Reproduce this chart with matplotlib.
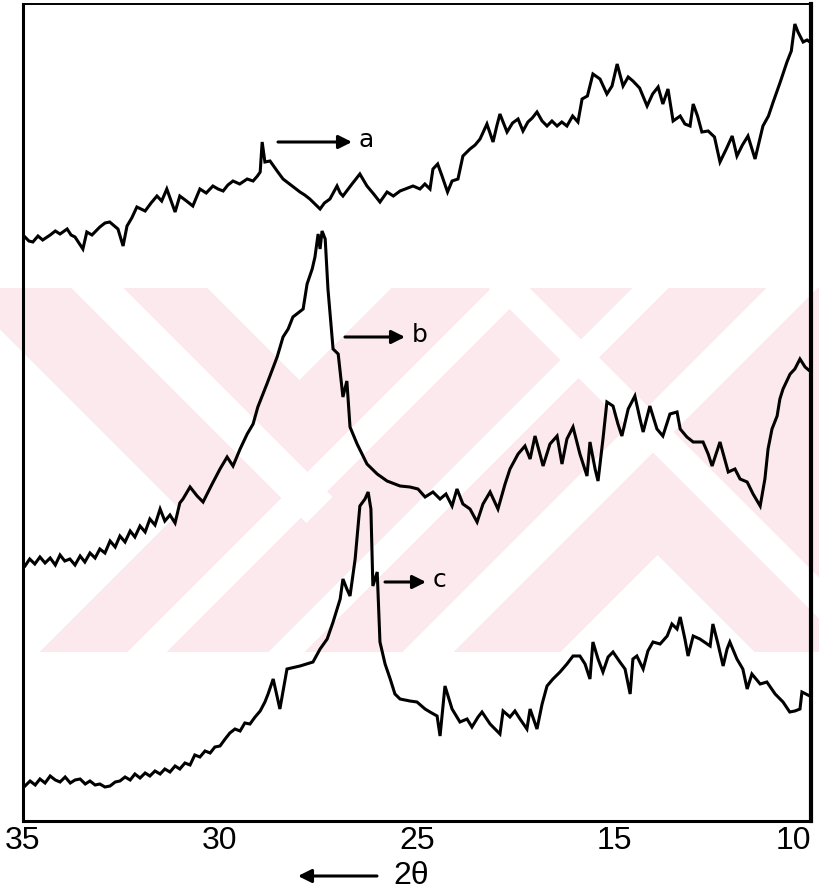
import numpy as np
import matplotlib
matplotlib.use("Agg")
import matplotlib.pyplot as plt
from matplotlib.patches import FancyArrowPatch

# diffractogram traces: 2-theta (deg) and intensity (a.u.)
theta_a = [34.95, 34.85, 34.75, 34.62, 34.50, 34.31, 34.18, 34.06, 33.88, 33.78, 33.68, 33.48,
           33.38, 33.25, 33.05, 32.92, 32.80, 32.59, 32.46, 32.36, 32.24,
           32.11, 31.90, 31.75, 31.60, 31.48, 31.35, 31.14, 31.02, 30.85, 30.69, 30.51, 30.35,
           30.18, 30.05, 29.92, 29.80, 29.67, 29.50, 29.31, 29.16, 29.05, 28.98, 28.93, 28.86,
           28.73, 28.55, 28.40, 28.20, 27.97, 27.85, 27.72, 27.54, 27.46, 27.35, 27.21, 27.03,
           26.95, 26.88, 26.65, 26.45, 26.27, 26.10, 25.94, 25.76, 25.60, 25.43, 25.10, 24.85,
           24.60, 24.34, 24.19, 23.95, 23.73, 23.45, 23.22, 22.92, 22.67, 22.31, 22.05, 21.80,
           21.45, 21.14, 20.95, 20.79, 20.43, 20.15, 19.87, 19.62, 19.37, 19.15, 18.91, 18.65,
           18.40, 18.15, 17.89, 17.65, 17.39, 17.10, 16.83, 16.62, 16.35, 16.07, 15.71, 15.36,
           15.10, 14.92, 14.77, 14.64, 14.52, 14.35, 14.16, 14.02, 13.88, 13.76, 13.63, 13.50,
           13.32, 13.20, 13.07, 12.99, 12.88, 12.77, 12.61, 12.45, 12.31, 12.15, 12.00, 11.88,
           11.74, 11.60, 11.42, 11.22, 11.08, 10.96, 10.78, 10.61, 10.50, 10.41, 10.33, 10.20,
           10.10, 10.03]
counts_a = [584, 580, 579, 585, 581, 586, 590, 587, 592, 586, 584, 572,
            589, 586, 594, 598, 599, 592, 575, 595, 603,
            614, 610, 618, 625, 620, 632, 609, 625, 620, 615, 632, 628,
            635, 632, 630, 636, 640, 637, 642, 640, 645, 649, 679, 659,
            660, 650, 642, 636, 629, 626, 622, 615, 612, 618, 622, 635,
            628, 625, 637, 647, 635, 627, 619, 629, 625, 630, 635, 632,
            637, 632, 652, 657, 645, 629, 640, 642, 665, 672, 676, 682,
            697, 679, 695, 707, 689, 698, 702, 690, 699, 703, 709, 700,
            695, 700, 695, 699, 695, 705, 699, 722, 725, 747, 742, 727,
            735, 757, 735, 744, 740, 733, 715, 727, 734, 717, 732, 700,
            705, 697, 695, 717, 705, 689, 690, 684, 659, 672, 685, 665,
            676, 685, 662, 695, 705, 719, 739, 759, 770, 797, 789, 779,
            781, 779]

theta_b = [34.95, 34.83, 34.70, 34.57, 34.44, 34.31, 34.18, 34.06, 33.94, 33.81, 33.68, 33.55,
           33.43, 33.30, 33.17, 33.05, 32.92, 32.79, 32.66, 32.54, 32.41, 32.28, 32.16, 32.03,
           31.90, 31.78, 31.65, 31.52, 31.40, 31.27, 31.14, 31.02, 30.94, 30.76, 30.58, 30.43,
           30.20, 30.00, 29.82, 29.67,
           29.49, 29.31, 29.16, 29.04, 28.81, 28.55, 28.40, 28.27, 28.15, 27.89, 27.79, 27.66,
           27.59, 27.51, 27.46, 27.41, 27.33, 27.26, 27.13, 27.00, 26.88, 26.78, 26.70, 26.52,
           26.27, 26.01, 25.76, 25.43, 25.18, 24.95, 24.59, 24.19, 23.83, 23.53, 23.22, 22.97,
           22.67, 22.31, 21.95, 21.65, 21.29, 20.89, 20.53, 20.28, 19.87, 19.52, 19.26, 19.01,
           18.76, 18.60, 18.25, 17.89, 17.64, 17.39, 17.08, 16.73, 16.37, 16.22, 15.96, 15.81,
           15.56, 15.36, 15.05, 14.90, 14.80, 14.64, 14.47, 14.34, 14.26, 14.09, 13.91, 13.76,
           13.58, 13.40, 13.32, 13.15, 12.99, 12.74, 12.61, 12.51, 12.31, 12.10, 11.93, 11.80,
           11.62, 11.47, 11.29, 11.17, 11.09, 10.99, 10.86, 10.79, 10.71, 10.53, 10.41, 10.28,
           10.15, 10.03]
counts_b = [255, 262, 257, 264, 258, 263, 256, 266, 260, 262, 256, 265,
            259, 268, 263, 272, 268, 280, 274, 285, 279, 290, 284, 295,
            289, 302, 296, 312, 300, 306, 298, 318, 322, 334, 325, 319,
            337, 352, 364, 355,
            372, 387, 397, 414, 437, 464, 484, 492, 504, 512, 537, 552,
            564, 587, 572, 590, 582, 532, 472, 467, 424, 440, 394, 377,
            357, 347, 340, 335, 334, 332, 324, 329, 322, 327, 315, 332,
            317, 312, 299, 317, 329, 312, 337, 352, 367, 375, 362, 385,
            367, 355, 377, 385, 357, 382, 394, 367, 345, 379, 352, 340,
            382, 419, 415, 397, 385, 412, 425, 402, 389, 415, 392, 385,
            407, 409, 392, 384, 379, 379, 367, 355, 379, 349, 352, 342,
            339, 327, 315, 342, 372, 392, 405, 422, 432, 447, 452, 462,
            454, 450]

theta_c = [34.95, 34.82, 34.69, 34.57, 34.44, 34.31, 34.18, 34.06, 33.93, 33.80, 33.68, 33.55,
           33.42, 33.30, 33.17, 33.05, 32.92, 32.79, 32.66, 32.54, 32.41, 32.28, 32.16, 32.03,
           31.90, 31.78, 31.65, 31.52, 31.40, 31.27, 31.14, 31.02, 30.89, 30.76, 30.64, 30.51,
           30.38, 30.25, 30.13, 30.00, 29.87, 29.75, 29.62, 29.49, 29.37, 29.24, 29.11, 28.98,
           28.86, 28.78, 28.65,
           28.48, 28.30, 27.97, 27.64, 27.46, 27.28, 27.13, 26.95, 26.88, 26.78, 26.70, 26.57,
           26.45, 26.32, 26.24, 26.17, 26.12, 26.01, 25.94, 25.81, 25.68, 25.56, 25.43, 25.18,
           25.00, 24.59, 24.34, 23.98, 23.83, 23.58, 23.22, 22.82, 22.46, 22.21, 21.90, 21.70,
           21.29, 20.79, 20.63, 20.28, 20.03, 19.77, 19.42, 19.26, 18.91, 18.65, 18.40, 18.10,
           17.74, 17.39, 17.08, 16.73, 16.47, 16.22, 16.07, 15.81, 15.56, 15.30, 15.05, 14.85,
           14.72, 14.59, 14.52, 14.42, 14.26, 14.14, 14.01, 13.83, 13.65, 13.53, 13.40, 13.32,
           13.20, 13.12, 12.99, 12.82, 12.56, 12.49, 12.36, 12.23, 12.13, 12.06, 11.88, 11.73,
           11.62, 11.50, 11.29, 11.12, 10.91, 10.71, 10.54, 10.41, 10.28, 10.23, 10.13, 10.03]
counts_c = [35, 40, 36, 42, 38, 45, 41, 39, 44, 38, 41, 42,
            37, 40, 36, 37, 34, 35, 39, 40, 44, 41, 47, 43,
            48, 45, 50, 47, 52, 49, 55, 52, 58, 56, 66, 64,
            70, 68, 74, 75, 82, 88, 92, 90, 98, 97, 104, 110,
            119, 127, 142,
            112, 152, 155, 159, 172, 182, 199, 222, 242, 232, 225, 262,
            315, 322, 329, 312, 235, 249, 179, 157, 142, 127, 122, 120,
            119, 112, 109, 105, 85, 135, 112, 99, 102, 94, 104, 109,
            97, 87, 110, 104, 110, 102, 92, 112, 92, 117, 135, 142,
            149, 157, 165, 165, 157, 142, 179, 162, 149, 164, 169, 159,
            152, 127, 162, 165, 152, 170, 179, 177, 185, 197, 192, 204,
            182, 165, 185, 182, 175, 197, 177, 155, 172, 179, 162, 152,
            132, 147, 137, 139, 127, 119, 109, 110, 112, 129, 127, 125]

trace_names = ["a", "b", "c"]
tick_vals = [35, 30, 25, 15, 10]
tick_labels = ["35", "30", "25", "15", "10"]


# the printed axis is not linear: equal spacing between 35|30|25|15|10
def fwd(t):
    return np.interp(t, [10, 15, 25, 35], [-4, -3, -2, 0])


def inv(p):
    return np.interp(p, [-4, -3, -2, 0], [10, 15, 25, 35])


W, H = 820, 895
fig = plt.figure(figsize=(W / 100, H / 100), dpi=100)

# faint watermark behind the chart
bg = fig.add_axes([0, 0, 1, 1], zorder=-1)
yy, xx = np.mgrid[0:H, 0:W]
s, d = xx + yy, xx - yy
band = (yy >= 289) & (yy <= 652)
white = (((d < -330) & (s < 692))
         | ((d >= -217) & (d <= -166) & (s < 830))
         | ((d >= -81) & (s <= 679))
         | ((s >= 780) & (s <= 818))
         | ((s >= 921) & (s <= 956))
         | ((s >= 1055) & (s <= 1105))
         | ((d >= 200) & (d <= 240))
         | ((s > 1212) & (d < 102)))
img = np.ones((H, W, 3))
img[band & ~white] = (0.992, 0.915, 0.93)
bg.imshow(img, extent=(0, W, H, 0), aspect="auto", interpolation="nearest")
bg.axis("off")

ax = fig.add_axes([23 / W, (H - 822) / H, 788 / W, 817 / H])
ax.set_facecolor("none")
ax.set_xscale("function", functions=(fwd, inv))

for th, ct in [(theta_a, counts_a), (theta_b, counts_b), (theta_c, counts_c)]:
    ax.plot(th, ct, color="black", lw=2.2, solid_joinstyle="miter")

ax.set_xlim(35, 10)
ax.set_ylim(0, 817)
ax.set_xticks(tick_vals)
ax.set_xticklabels(tick_labels)
ax.set_yticks([])
ax.minorticks_off()
ax.tick_params(axis="x", length=0, pad=3, labelsize=23)
for lab in ax.get_xticklabels():
    lab.set_family("Liberation Sans")
ax.get_xticklabels()[-1].set_horizontalalignment("right")

for side, lw in [("left", 2.2), ("bottom", 2.2), ("right", 3.0), ("top", 1.4)]:
    ax.spines[side].set_linewidth(lw)

arrow = dict(arrowstyle="-|>", color="black", lw=2.2, mutation_scale=20, shrinkA=0, shrinkB=0)


def fpx(x, y):
    return (x / W, 1 - y / H)


# curve labels: (tail x, head x, y) in figure pixels
label_pos = [(278, 352, 143), (345, 405, 338), (385, 426, 583)]
for name, (x0, x1, y) in zip(trace_names, label_pos):
    fig.add_artist(FancyArrowPatch(fpx(x0, y), fpx(x1, y), transform=fig.transFigure, **arrow))
    fig.text(*fpx(x1 + 7, y - 3), name, fontsize=18, va="center", ha="left",
             family="DejaVu Sans")

# axis name with arrow
fig.add_artist(FancyArrowPatch(fpx(377, 877), fpx(298, 877), transform=fig.transFigure, **arrow))
fig.text(*fpx(393, 876), "2θ", fontsize=23, va="center", ha="left", family="Liberation Sans")

fig.savefig("out.png", dpi=100)
